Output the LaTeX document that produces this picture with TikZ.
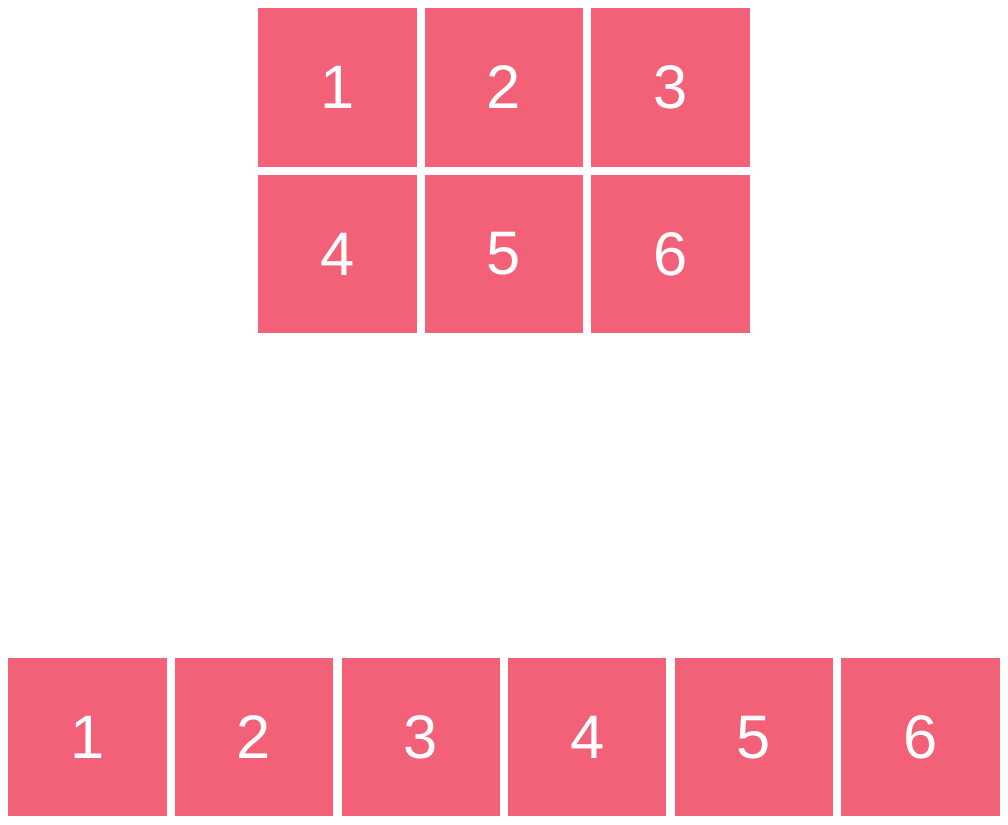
\documentclass[tikz,border=0pt]{standalone}
\usepackage{fontspec}
\setmainfont{Liberation Sans}
\definecolor{tile}{HTML}{F26178}
\begin{document}
\begin{tikzpicture}[x=1mm,y=-1mm,
  tilebox/.style={fill=tile,draw=none,minimum size=19mm,inner sep=0pt,outer sep=0pt,
    text=white,font=\fontsize{21}{21}\selectfont}]
\useasboundingbox (0,0) rectangle (121,99);
\node[tilebox] (t1) at (40.5,10.5) {1};
\node[tilebox] (t2) at (60.5,10.5) {2};
\node[tilebox] (t3) at (80.5,10.5) {3};
\node[tilebox] (t4) at (40.5,30.5) {4};
\node[tilebox] (t5) at (60.5,30.5) {5};
\node[tilebox] (t6) at (80.5,30.5) {6};
\node[tilebox] (b1) at (10.5,88.5) {1};
\node[tilebox] (b2) at (30.5,88.5) {2};
\node[tilebox] (b3) at (50.5,88.5) {3};
\node[tilebox] (b4) at (70.5,88.5) {4};
\node[tilebox] (b5) at (90.5,88.5) {5};
\node[tilebox] (b6) at (110.5,88.5) {6};
\end{tikzpicture}
\end{document}
